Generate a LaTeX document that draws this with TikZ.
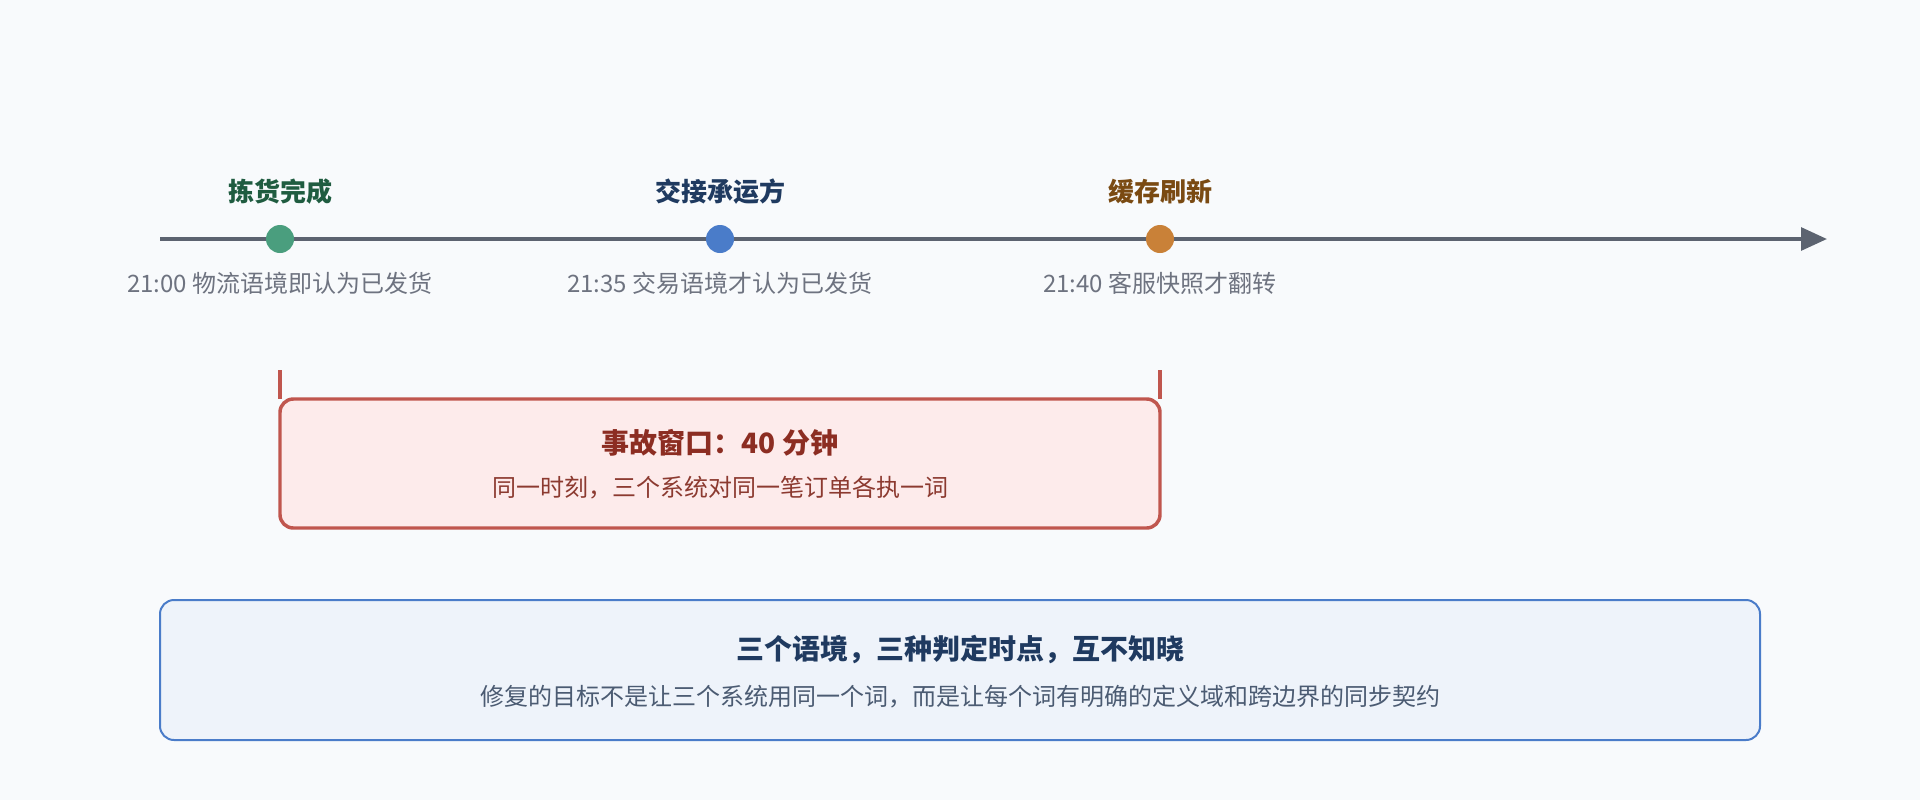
\documentclass[tikz,border=0pt]{standalone}
\usepackage{fontspec}
\setmainfont{Noto Sans CJK SC}
\usetikzlibrary{arrows.meta}
\definecolor{bgc}{HTML}{F8FAFC}
\definecolor{axisc}{HTML}{5C6370}
\definecolor{greendot}{HTML}{4A9E7E}
\definecolor{greentxt}{HTML}{1F5C40}
\definecolor{bluedot}{HTML}{4A7CC9}
\definecolor{bluetxt}{HTML}{1F3A60}
\definecolor{orangedot}{HTML}{C98138}
\definecolor{orangetxt}{HTML}{7A4A12}
\definecolor{graytxt}{HTML}{6E7380}
\definecolor{redline}{HTML}{C0564E}
\definecolor{redfill}{HTML}{FDEBEB}
\definecolor{redtitle}{HTML}{8C2D22}
\definecolor{redsub}{HTML}{8C3A30}
\definecolor{bluefill}{HTML}{EEF3FA}
\definecolor{bluesub}{HTML}{4B5B72}
\begin{document}
\begin{tikzpicture}[x=0.75pt,y=-0.75pt,
  axis/.style={draw=axisc,line width=3pt,-{Triangle[length=19.5pt,width=17pt]}},
  dot/.style={circle,inner sep=0pt,minimum size=21pt},
  toplab/.style={inner sep=0pt,font=\fontsize{19.5pt}{22pt}\selectfont\bfseries},
  botlab/.style={inner sep=0pt,text=graytxt,font=\fontsize{18pt}{21pt}\selectfont},
  redbox/.style={draw=redline,fill=redfill,line width=2.6pt,rounded corners=10pt,
    minimum width=660pt,minimum height=96.75pt,inner sep=0pt,outer sep=0pt},
  bluebox/.style={draw=bluedot,fill=bluefill,line width=1.5pt,rounded corners=10.5pt,
    minimum width=1200pt,minimum height=105pt,inner sep=0pt},
  bracket/.style={draw=redline,line width=2.4pt},
  titletxt/.style={inner sep=0pt,font=\fontsize{21pt}{24pt}\selectfont\bfseries},
  subtxt/.style={inner sep=0pt,font=\fontsize{18pt}{21pt}\selectfont}]
\fill[bgc] (0,0) rectangle (1920,800);
\useasboundingbox (0,0) rectangle (1920,800);
% timeline
\coordinate (tstart) at (160,239);
\coordinate (tend) at (1827,239);
\draw[axis] (tstart) -- (tend);
\node[dot,fill=greendot] (d1) at (280,239) {};
\node[dot,fill=bluedot] (d2) at (720,239) {};
\node[dot,fill=orangedot] (d3) at (1160,239) {};
\node[toplab,text=greentxt] (t1) at (280,192) {拣货完成};
\node[toplab,text=bluetxt] (t2) at (720,192) {交接承运方};
\node[toplab,text=orangetxt] (t3) at (1160,192) {缓存刷新};
\node[botlab] (b1) at (280,283) {21:00 物流语境即认为已发货};
\node[botlab] (b2) at (720,283) {21:35 交易语境才认为已发货};
\node[botlab] (b3) at (1160,283) {21:40 客服快照才翻转};
% incident window
\node[redbox] (win) at (720,463.5) {};
\coordinate (k1) at (280,370);
\coordinate (k2) at (1160,370);
\draw[bracket] (k1) -- (k1 |- win.north);
\draw[bracket] (k2) -- (k2 |- win.north);
\node[titletxt,text=redtitle] (wt) at (720,443) {事故窗口：40 分钟};
\node[subtxt,text=redsub] (ws) at (720,488) {同一时刻，三个系统对同一笔订单各执一词};
% summary
\node[bluebox] (sum) at (960,670) {};
\node[titletxt,text=bluetxt] (st) at (960,650) {三个语境，三种判定时点，互不知晓};
\node[subtxt,text=bluesub] (ss) at (960,697) {修复的目标不是让三个系统用同一个词，而是让每个词有明确的定义域和跨边界的同步契约};
\end{tikzpicture}
\end{document}
